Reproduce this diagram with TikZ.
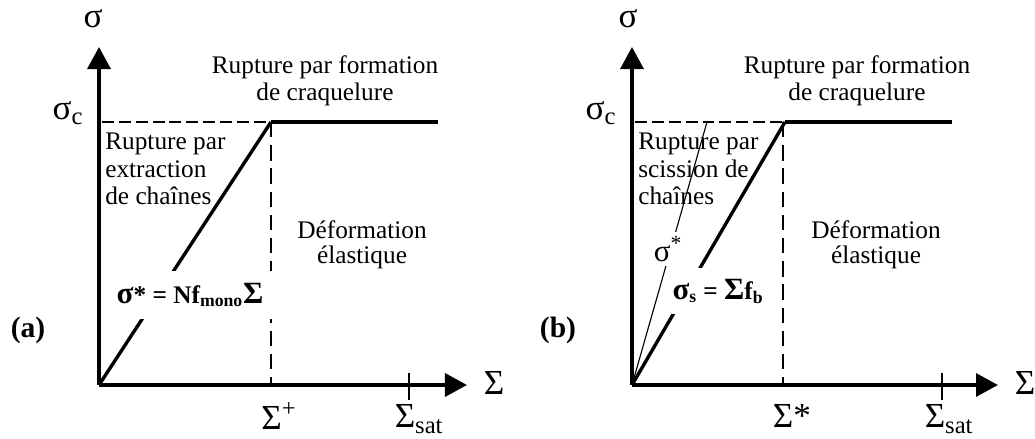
\documentclass[tikz,border=0pt]{standalone}
\usepackage{fontspec}
\setmainfont{Liberation Serif}
\usepackage{tikz}
\usetikzlibrary{arrows.meta}

\newcommand{\gk}[1]{{\fontsize{22}{22}\selectfont #1}}

\begin{document}
\begin{tikzpicture}[x=0.025cm,y=-0.025cm]
        \tikzset{axis/.style={line width=2.8pt,-{Triangle[length=0.55cm,width=0.57cm]}},
                 hguide/.style={line width=1.9pt,dash pattern=on 8.5pt off 3.5pt},
                 vguide/.style={line width=2pt,dash pattern=on 11pt off 5.5pt},
                 curve/.style={line width=2.4pt},
                 thinline/.style={line width=0.8pt},
                 tick/.style={line width=1.4pt},
                 txt/.style={font=\fontsize{18}{19.5}\selectfont, inner sep=0pt},
                 greek/.style={font=\fontsize{25}{25}\selectfont, inner sep=0pt},
                 tag/.style={font=\fontsize{21}{21}\selectfont\bfseries, inner sep=0pt},
                 law/.style={font=\fontsize{18}{19.5}\selectfont\bfseries, fill=white, inner xsep=0.2cm, inner ysep=0.28cm}}
        \useasboundingbox (0,0) rectangle (1035,439);

	%---NODES---
        % (a)
        \coordinate (Oa) at (99,385);
        \coordinate (Ya) at (99,47);
        \coordinate (Xa) at (467,385);
        \coordinate (Sa) at (102,122);
        \coordinate (Ca) at (271,122);
        \coordinate (Pa) at (438,122);
        \coordinate (Ea) at (271,385);
        \coordinate (Ta1) at (409,373);
        \coordinate (Ta2) at (409,400);
        % (b)
        \coordinate (Ob) at (632,385);
        \coordinate (Yb) at (632,47);
        \coordinate (Xb) at (998,385);
        \coordinate (Sb) at (635,122);
        \coordinate (Cb) at (785,122);
        \coordinate (Pb) at (952,122);
        \coordinate (Eb) at (783,385);
        \coordinate (Mb) at (707,122);
        \coordinate (Tb1) at (942,373);
        \coordinate (Tb2) at (942,400);

	%---EDGES---
        \draw[axis]   (Oa) -- (Ya) ;
        \draw[axis]   (Oa) -- (Xa) ;
        \draw[hguide]   (Sa) -- (Ca) ;
        \draw[vguide]   (Ca) -- (Ea) ;
        \draw[curve]   (Oa) -- (Ca) ;
        \draw[curve]   (Ca) -- (Pa) ;
        \draw[tick]   (Ta1) -- (Ta2) ;

        \draw[axis]   (Ob) -- (Yb) ;
        \draw[axis]   (Ob) -- (Xb) ;
        \draw[hguide]   (Sb) -- (Cb) ;
        \draw[vguide]   (Eb |- Cb) -- (Eb) ;
        \draw[thinline]   (Ob) -- (Mb) ;
        \draw[curve]   (Ob) -- (Cb) ;
        \draw[curve]   (Cb) -- (Pb) ;
        \draw[tick]   (Tb1) -- (Tb2) ;

	%---LABELS---
        \node[greek] (sa) at (93,19) {σ};
        \node[greek] (sca) at (68,113) {σ\textsubscript{c}};
        \node[greek] (xa) at (494,383) {Σ};
        \node[greek] (epa) at (279,416) {Σ\textsuperscript{+}};
        \node[greek] (sata) at (419,419) {Σ\textsubscript{sat}};
        \node[tag] (taga) at (28,330) {(a)};
        \node[txt, align=center, anchor=north] (craqa) at (325,55) {Rupture par formation\\de craquelure};
        \node[txt, align=left, anchor=north west] (extra) at (105,133) {Rupture par\\extraction\\de chaînes};
        \node[txt, align=center, anchor=north, font=\fontsize{18}{18}\selectfont] (defa) at (362,220) {Déformation\\élastique};
        \node[law, minimum width=4.3cm, minimum height=1.2cm] (lawa) at (190,295) {\gk{σ}* = Nf\textsubscript{mono}\gk{Σ}};

        \node[greek] (sb) at (628,19) {σ};
        \node[greek] (scb) at (601,113) {σ\textsubscript{c}};
        \node[greek] (xb) at (1025,383) {Σ};
        \node[greek] (epb) at (792,416) {Σ*};
        \node[greek] (satb) at (949,419) {Σ\textsubscript{sat}};
        \node[tag] (tagb) at (558,330) {(b)};
        \node[txt, align=center, anchor=north] (craqb) at (857,55) {Rupture par formation\\de craquelure};
        \node[txt, align=left, anchor=north west] (scis) at (638,133) {Rupture par\\scission de\\chaînes};
        \node[txt, align=center, anchor=north, font=\fontsize{18}{18}\selectfont] (defb) at (876,220) {Déformation\\élastique};
        \node[law, inner xsep=0.1cm] (lawb) at (718,291) {\gk{σ}\textsubscript{s} = \gk{Σ}f\textsubscript{b}};
        \node[txt, font=\fontsize{22}{22}\selectfont, fill=white, inner xsep=0.05cm, inner ysep=0.1cm] (lawc) at (668,249) {σ\textsuperscript{*}};

\end{tikzpicture}
\end{document}
